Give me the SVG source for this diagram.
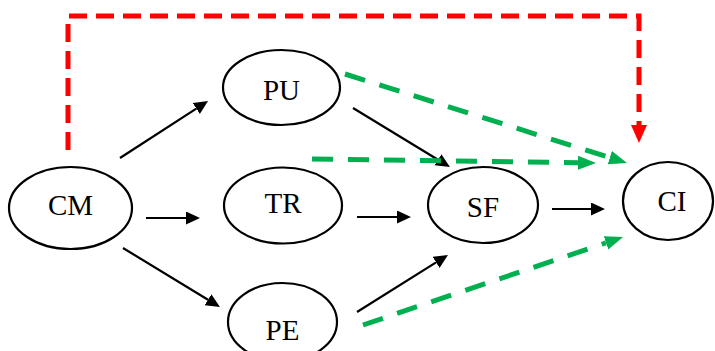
<svg xmlns="http://www.w3.org/2000/svg" width="715" height="351" viewBox="0 0 715 351">
  <defs>
    <style>
      .node ellipse { fill: #ffffff; stroke: #000000; stroke-width: 2.2; }
      .node text { font-family: "Liberation Serif", "Times New Roman", serif; font-size: 29px; fill: #000000; text-anchor: middle; }
      .solid { stroke: #000000; stroke-width: 2.2; fill: none; marker-end: url(#ah-black); }
      .green { stroke: #00b050; stroke-width: 5; fill: none; stroke-dasharray: 21 15; marker-end: url(#ah-green); }
      .red { stroke: #ff0000; stroke-width: 5; fill: none; stroke-dasharray: 18 9; stroke-linejoin: miter; marker-end: url(#ah-red); }
    </style>
    <marker id="ah-black" markerUnits="userSpaceOnUse" markerWidth="16" markerHeight="14" refX="0" refY="6.5" orient="auto">
      <path d="M0,0 L14,6.5 L0,13 z" fill="#000000"/>
    </marker>
    <marker id="ah-green" markerUnits="userSpaceOnUse" markerWidth="20" markerHeight="16" refX="0" refY="7" orient="auto">
      <path d="M0,0 L18,7 L0,14 z" fill="#00b050"/>
    </marker>
    <marker id="ah-red" markerUnits="userSpaceOnUse" markerWidth="20" markerHeight="18" refX="0" refY="8" orient="auto">
      <path d="M0,0 L18,8 L0,16 z" fill="#ff0000"/>
    </marker>
  </defs>
  <rect width="715" height="351" fill="#ffffff"/>

  <g id="connectors">
    <path class="red" d="M68,150 V16 H639 V125"/>
    <line class="solid" x1="120" y1="158" x2="196.3" y2="108.6"/>
    <line class="solid" x1="146" y1="218" x2="186" y2="218"/>
    <line class="solid" x1="123" y1="248" x2="208" y2="299.7"/>
    <line class="solid" x1="353" y1="108" x2="438" y2="159.7"/>
    <line class="solid" x1="357" y1="217" x2="397" y2="217"/>
    <line class="solid" x1="357" y1="312" x2="436.1" y2="262.4"/>
    <line class="solid" x1="552" y1="209" x2="591" y2="209"/>
    <line class="green" x1="345" y1="74" x2="609.8" y2="157.6"/>
    <line class="green" x1="312" y1="159" x2="578" y2="162.7"/>
    <line class="green" x1="363" y1="325" x2="606" y2="242.8"/>
  </g>

  <g id="node-CM" class="node">
    <ellipse cx="70.5" cy="208" rx="61.5" ry="41"/>
    <text x="70.5" y="215">CM</text>
  </g>
  <g id="node-PU" class="node">
    <ellipse cx="281.5" cy="87.5" rx="58.5" ry="37.5"/>
    <text x="281.5" y="100">PU</text>
  </g>
  <g id="node-TR" class="node">
    <ellipse cx="283" cy="205.5" rx="59" ry="38"/>
    <text x="283" y="213">TR</text>
  </g>
  <g id="node-PE" class="node">
    <ellipse cx="282.5" cy="322" rx="54.5" ry="39"/>
    <text x="282.5" y="340">PE</text>
  </g>
  <g id="node-SF" class="node">
    <ellipse cx="483" cy="205" rx="55" ry="38"/>
    <text x="483" y="217">SF</text>
  </g>
  <g id="node-CI" class="node">
    <ellipse cx="668" cy="201" rx="45" ry="39"/>
    <text x="672" y="211">CI</text>
  </g>
</svg>
